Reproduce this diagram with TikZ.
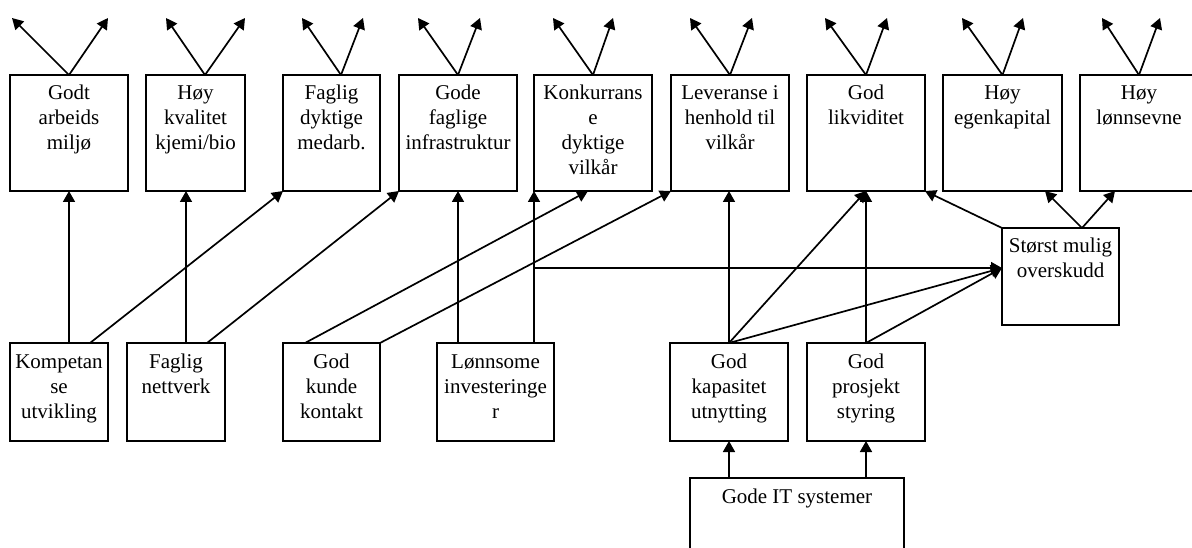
\documentclass[tikz,border=0pt]{standalone}
\usepackage{fontspec}
\setmainfont{Liberation Serif}
\usetikzlibrary{arrows.meta,calc}
\newcommand{\bxt}[3]{\begin{minipage}[t][#2pt][t]{#1pt}\centering\rule{0pt}{25pt}#3\end{minipage}}
\begin{document}
\begin{tikzpicture}[x=1pt,y=-1pt,
  font=\fontsize{21pt}{25pt}\selectfont,
  box/.style={draw, line width=1.6pt, inner sep=0pt, outer sep=0pt, anchor=north west},
  arr/.style={line width=1.7pt, -{Triangle[length=11pt,width=12pt]}}]
\useasboundingbox (0,0) rectangle (1192,548);
\clip (0,0) rectangle (1192,548);
% top row
\node[box] (b1) at (10,75) {\bxt{118}{116}{Godt\\arbeids\\miljø}};
\node[box] (b2) at (146,75) {\bxt{99}{116}{Høy\\kvalitet\\kjemi/bio}};
\node[box] (b3) at (283,75) {\bxt{97}{116}{Faglig\\dyktige\\medarb.}};
\node[box] (b4) at (399,75) {\bxt{118}{116}{Gode\\faglige\\infrastruktur}};
\node[box] (b5) at (534,75) {\bxt{118}{116}{Konkurrans\\e\\dyktige\\vilkår}};
\node[box] (b6) at (671,75) {\bxt{118}{116}{Leveranse i\\henhold til\\vilkår}};
\node[box] (b7) at (807,75) {\bxt{118}{116}{God\\likviditet}};
\node[box] (b8) at (943,75) {\bxt{119}{116}{Høy\\egenkapital}};
\node[box] (b9) at (1080,75) {\bxt{118}{116}{Høy\\lønnsevne}};
% bottom row
\node[box] (kom) at (10,343) {\bxt{98}{98}{Kompetan\\se\\utvikling}};
\node[box] (fn) at (127,343) {\bxt{98}{98}{Faglig\\nettverk}};
\node[box] (gk) at (283,343) {\bxt{97}{98}{God\\kunde\\kontakt}};
\node[box] (lon) at (437,343) {\bxt{117}{98}{Lønnsome\\investeringe\\r}};
\node[box] (kap) at (670,343) {\bxt{118}{98}{God\\kapasitet\\utnytting}};
\node[box] (pro) at (807,343) {\bxt{118}{98}{God\\prosjekt\\styring}};
\node[box] (it) at (690,478) {\bxt{214}{100}{Gode IT systemer}};
\node[box] (st) at (1002,228) {\bxt{117}{97}{Størst mulig\\overskudd}};
% top arrows
\coordinate (p1) at (b1.north);
\coordinate (p2) at ($(b2.north)+(9.5,0)$);
\coordinate (p3) at ($(b3.north)+(9.5,0)$);
\coordinate (p4) at (b4.north);
\coordinate (p5) at (b5.north);
\coordinate (p6) at (b6.north);
\coordinate (p7) at (b7.north);
\coordinate (p8) at (b8.north);
\coordinate (p9) at (b9.north);
\coordinate (l1) at (12,18);   \coordinate (r1) at (108,18);
\coordinate (l2) at (166,18);  \coordinate (r2) at (245,18);
\coordinate (l3) at (302,18);  \coordinate (r3) at (363,18);
\coordinate (l4) at (418,18);  \coordinate (r4) at (480,18);
\coordinate (l5) at (553,18);  \coordinate (r5) at (613,18);
\coordinate (l6) at (690,18);  \coordinate (r6) at (752,18);
\coordinate (l7) at (825,18);  \coordinate (r7) at (887,18);
\coordinate (l8) at (962,18);  \coordinate (r8) at (1023,18);
\coordinate (l9) at (1102,18); \coordinate (r9) at (1160,18);
\foreach \i in {1,...,9}{
  \draw[arr] (p\i) -- (l\i);
  \draw[arr] (p\i) -- (r\i);
}
% connectors
\draw[arr] (kom.north -| b1.south) -- (b1.south);
\draw[arr] ($(kom.north east)+(-18,0)$) -- (b3.south west);
\coordinate (fnv) at ($(fn.north west)+(59,0)$);
\draw[arr] (fnv) -- (fnv |- b2.south);
\draw[arr] ($(fn.north east)+(-18,0)$) -- (b4.south west);
\draw[arr] ($(gk.north west)+(22,0)$) -- ($(b5.south west)+(54,0)$);
\draw[arr] (gk.north east) -- (b6.south west);
\draw[arr] (b4.south |- lon.north) -- (b4.south);
\draw[arr] (b5.south west |- lon.north) -- (b5.south west);
\coordinate (stin) at ($(st.north west)+(0,40)$);
\draw[arr] (b5.south west |- stin) -- (stin);
\draw[arr] (kap.north) -- (kap.north |- b6.south);
\draw[arr] (kap.north) -- (b7.south);
\draw[arr] (kap.north) -- (stin);
\draw[arr] (pro.north) -- (pro.north |- b7.south);
\draw[arr] (pro.north) -- (stin);
\draw[arr] (st.north west) -- (b7.south east);
\coordinate (stt) at ($(st.north west)+(80,0)$);
\draw[arr] (stt) -- ($(b8.south west)+(102,0)$);
\draw[arr] (stt) -- ($(b9.south west)+(35,0)$);
\draw[arr] (it.north -| kap.north) -- (kap.south);
\draw[arr] (it.north -| pro.north) -- (pro.south);
\end{tikzpicture}
\end{document}
